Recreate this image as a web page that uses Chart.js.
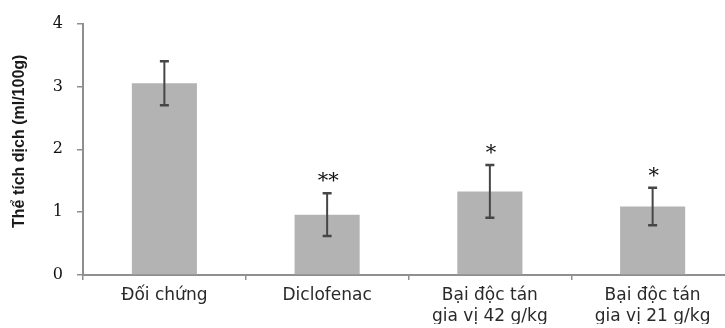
<!DOCTYPE html>
<html>
<head>
<meta charset="utf-8">
<script src="https://cdn.jsdelivr.net/npm/chart.js@4/dist/chart.umd.min.js"></script>
<style>
  html, body { margin: 0; padding: 0; background: #fff; overflow: hidden; }
  #wrap { position: absolute; left: 0; top: 0; width: 736px; height: 328px; }
</style>
</head>
<body>
<div id="wrap"><canvas id="c"></canvas></div>
<script>
// Groups on the x axis (multi-line names are split into lines)
const categories = [
  'Đối chứng',
  'Diclofenac',
  ['Bại độc tán', 'gia vị 42 g/kg'],
  ['Bại độc tán', 'gia vị 21 g/kg']
];
// Mean exudate volume (ml/100g) and its standard deviation
const means = [3.05, 0.96, 1.33, 1.09];
const sds = [0.35, 0.34, 0.42, 0.30];
// Significance marks shown above each error bar
const marks = ['', '**', '*', '*'];
// Y axis tick values
const yTicks = [0, 1, 2, 3, 4];
const yTitle = 'Thể tích dịch (ml/100g)';

const axisGray = '#8f8f8f';

// Error bars, significance marks and the rotated y-axis title
const errorBars = {
  id: 'errorBars',
  afterDatasetsDraw(chart) {
    const ctx = chart.ctx;
    const y = chart.scales.y;
    const meta = chart.getDatasetMeta(0);
    ctx.save();
    meta.data.forEach((bar, i) => {
      const x = bar.x;
      const yTop = y.getPixelForValue(means[i] + sds[i]);
      const yBot = y.getPixelForValue(means[i] - sds[i]);
      ctx.strokeStyle = '#464646';
      ctx.lineWidth = 2;
      ctx.beginPath();
      ctx.moveTo(x, yTop);
      ctx.lineTo(x, yBot);
      ctx.stroke();
      ctx.lineWidth = 2.5;
      ctx.beginPath();
      ctx.moveTo(x - 4.5, yTop);
      ctx.lineTo(x + 4.5, yTop);
      ctx.moveTo(x - 4.5, yBot);
      ctx.lineTo(x + 4.5, yBot);
      ctx.stroke();
      if (marks[i]) {
        ctx.fillStyle = '#111';
        ctx.font = '21px "DejaVu Serif"';
        ctx.textAlign = 'center';
        ctx.textBaseline = 'alphabetic';
        ctx.fillText(marks[i], x + 1, yTop - 6);
      }
    });

    const area = chart.chartArea;
    ctx.translate(20, (area.top + area.bottom) / 2 - 8);
    ctx.rotate(-Math.PI / 2);
    ctx.fillStyle = '#1a1a1a';
    ctx.font = 'bold 16px "Liberation Sans"';
    ctx.textAlign = 'center';
    ctx.textBaseline = 'middle';
    ctx.fillText(yTitle, 0, 0);
    ctx.restore();
  }
};

new Chart(document.getElementById('c'), {
  type: 'bar',
  data: {
    labels: categories,
    datasets: [{
      data: means,
      backgroundColor: '#b3b3b3',
      borderWidth: 0,
      categoryPercentage: 1,
      barPercentage: 0.4
    }]
  },
  options: {
    responsive: true,
    maintainAspectRatio: false,
    animation: false,
    layout: { padding: { top: 21, right: 2, bottom: 4, left: 0 } },
    plugins: { legend: { display: false }, tooltip: { enabled: false } },
    scales: {
      x: {
        afterFit(scale) { scale.height = 49; },
        grid: { drawOnChartArea: false, drawTicks: true, tickLength: 5, color: axisGray, lineWidth: 1.5 },
        border: { color: axisGray, width: 2 },
        ticks: {
          color: '#2a2a2a',
          padding: 6,
          maxRotation: 0,
          autoSkip: false,
          font: { family: '"DejaVu Sans"', size: 17, lineHeight: 1.18 }
        }
      },
      y: {
        min: 0,
        max: 4,
        afterBuildTicks(scale) { scale.ticks = yTicks.map(v => ({ value: v })); },
        afterFit(scale) { scale.width = 83; },
        grid: { drawOnChartArea: false, drawTicks: true, tickLength: 6, color: axisGray, lineWidth: 1.5 },
        border: { color: axisGray, width: 2 },
        ticks: {
          color: '#111',
          padding: 14,
          font: { family: '"DejaVu Serif"', size: 16 }
        }
      }
    }
  },
  plugins: [errorBars]
});
</script>
</body>
</html>
